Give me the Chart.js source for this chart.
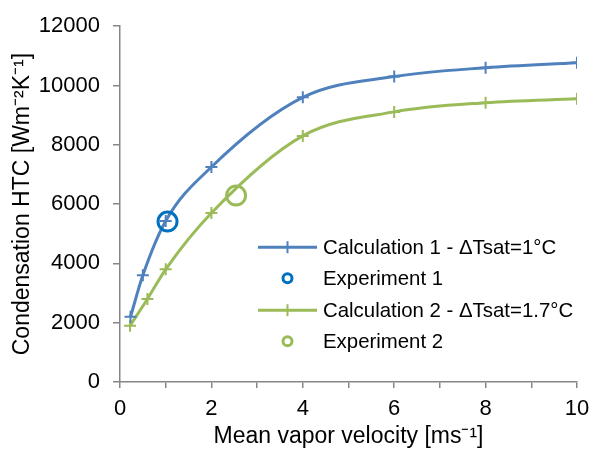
<!DOCTYPE html>
<html><head><meta charset="utf-8">
<script src="https://cdn.jsdelivr.net/npm/chart.js@4/dist/chart.umd.min.js"></script>
<style>html,body{margin:0;padding:0;background:#fff}#wrap{width:592px;height:450px}</style>
</head><body><div id="wrap"><canvas id="c" width="592" height="450"></canvas></div>
<script>
// ---- data ----
const calc1Velocity = [0.23, 0.5, 1, 2, 4, 6, 8, 10];
const calc1HTC      = [2200, 3600, 5430, 7250, 9600, 10300, 10600, 10770];
const calc2Velocity = [0.22, 0.6, 1, 2, 4, 6, 8, 10];
const calc2HTC      = [1900, 2800, 3800, 5700, 8300, 9110, 9420, 9550];
const exp1Velocity  = [1.04];
const exp1HTC       = [5410];
const exp2Velocity  = [2.54];
const exp2HTC       = [6290];
const seriesLabels  = ['Calculation 1 - ΔTsat=1°C', 'Experiment 1', 'Calculation 2 - ΔTsat=1.7°C', 'Experiment 2'];
const xTitle = 'Mean vapor velocity [ms⁻¹]';
const yTitle = 'Condensation HTC [Wm⁻²K⁻¹]';

const FONT = "'Liberation Sans', Arial, sans-serif";
const BLUE = '#4F81BD', BLUE_EXP = '#0070C0', GREEN = '#9BBB59', AXIS = '#868686';
const zip = (xs, ys) => xs.map((x, i) => ({x, y: ys[i]}));

const insideLegend = {
  id: 'insideLegend',
  afterDraw(chart) {
    const ctx = chart.ctx, a = chart.chartArea;
    const x0 = a.left + 138, x1 = a.left + 197, xm = (x0 + x1) / 2, tx = a.left + 203;
    const rowOffsets = [221, 252, 284, 315];
    ctx.save();
    chart.data.datasets.forEach((ds, i) => {
      const y = a.top + rowOffsets[i];
      if (ds.showLine) {
        ctx.strokeStyle = ds.borderColor; ctx.lineWidth = 3; ctx.lineCap = 'butt';
        ctx.beginPath(); ctx.moveTo(x0, y); ctx.lineTo(x1, y); ctx.stroke();
        ctx.lineWidth = 2;
        ctx.beginPath(); ctx.moveTo(xm, y - 6); ctx.lineTo(xm, y + 6); ctx.stroke();
      } else {
        ctx.strokeStyle = ds.pointBorderColor; ctx.lineWidth = 3;
        ctx.beginPath(); ctx.arc(xm, y, 4.5, 0, Math.PI * 2); ctx.stroke();
      }
      ctx.fillStyle = '#000'; ctx.font = '20.4px ' + FONT;
      ctx.textAlign = 'left'; ctx.textBaseline = 'middle';
      ctx.fillText(ds.label, tx, y + 1);
    });
    ctx.restore();
  }
};

const lineDs = (label, xs, ys, color) => ({
  label, data: zip(xs, ys), showLine: true,
  borderColor: color, borderWidth: 3, cubicInterpolationMode: 'monotone',
  pointStyle: 'cross', pointRadius: 6, pointBorderWidth: 2,
  pointBorderColor: color, pointBackgroundColor: color, order: 2
});
const expDs = (label, xs, ys, color) => ({
  label, data: zip(xs, ys), showLine: false,
  pointStyle: 'circle', pointRadius: 9.5, pointBorderWidth: 3,
  borderColor: color, pointBorderColor: color, backgroundColor: 'rgba(0,0,0,0)',
  pointBackgroundColor: 'rgba(0,0,0,0)', order: 1
});

new Chart(document.getElementById('c'), {
  type: 'scatter',
  data: {
    datasets: [
      lineDs(seriesLabels[0], calc1Velocity, calc1HTC, BLUE),
      expDs(seriesLabels[1], exp1Velocity, exp1HTC, BLUE_EXP),
      lineDs(seriesLabels[2], calc2Velocity, calc2HTC, GREEN),
      expDs(seriesLabels[3], exp2Velocity, exp2HTC, GREEN)
    ]
  },
  options: {
    responsive: false, animation: false,
    layout: { padding: { top: 24, right: 15, left: 0, bottom: 0 } },
    plugins: { legend: { display: false }, tooltip: { enabled: false } },
    scales: {
      x: {
        type: 'linear', min: 0, max: 10,
        ticks: { stepSize: 1, autoSkip: false, maxRotation: 0, color: '#000', padding: 8,
                 font: { family: FONT, size: 22 },
                 callback: v => (v % 2 === 0 ? String(v) : '') },
        grid: { display: true, drawOnChartArea: false, drawTicks: true, tickLength: 6, color: AXIS, lineWidth: 1.5 },
        border: { display: true, color: AXIS, width: 1.5 },
        title: { display: true, text: xTitle, color: '#000', font: { family: FONT, size: 23 }, padding: 0 },
        afterFit(s) { s.height = 68; s.paddingRight = 0; s.paddingLeft = 0; }
      },
      y: {
        min: 0, max: 12000,
        ticks: { stepSize: 2000, color: '#000', padding: 13, font: { family: FONT, size: 22 },
                 callback: v => String(v) },
        grid: { display: true, drawOnChartArea: false, drawTicks: true, tickLength: 7, color: AXIS, lineWidth: 1.5 },
        border: { display: true, color: AXIS, width: 1.5 },
        title: { display: true, text: yTitle, color: '#000', font: { family: FONT, size: 23 }, padding: { top: 9, bottom: 0 } },
        afterFit(s) { s.width = 120; }
      }
    }
  },
  plugins: [insideLegend]
});
</script>
</body></html>
